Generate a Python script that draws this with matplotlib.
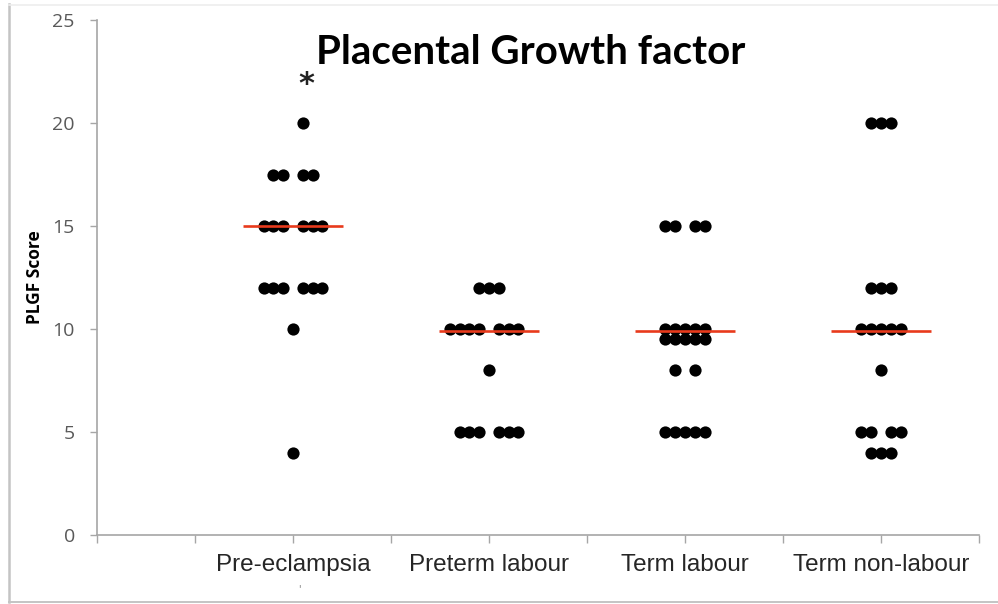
import matplotlib
matplotlib.use("Agg")
import matplotlib.pyplot as plt
from matplotlib.lines import Line2D

# Group labels and their positions on the category axis
groups = ["Pre-eclampsia", "Preterm labour", "Term labour", "Term non-labour"]
group_pos = [2, 4, 6, 8]

# Individual PLGF scores (x = jittered position, y = score)
pe_x = [2.1, 1.8, 1.9, 2.1, 2.2, 1.7, 1.8, 1.9, 2.1, 2.2, 2.3,
        1.7, 1.8, 1.9, 2.1, 2.2, 2.3, 2.0, 2.0]
pe_y = [20, 17.5, 17.5, 17.5, 17.5, 15, 15, 15, 15, 15, 15,
        12, 12, 12, 12, 12, 12, 10, 4]

ptl_x = [3.9, 4.0, 4.1, 3.6, 3.7, 3.8, 3.9, 4.1, 4.2, 4.3, 4.0,
         3.7, 3.8, 3.9, 4.1, 4.2, 4.3]
ptl_y = [12, 12, 12, 10, 10, 10, 10, 10, 10, 10, 8,
         5, 5, 5, 5, 5, 5]

tl_x = [5.8, 5.9, 6.1, 6.2, 5.8, 5.9, 6.0, 6.1, 6.2, 5.8, 5.9, 6.0, 6.1, 6.2,
        5.9, 6.1, 5.8, 5.9, 6.0, 6.1, 6.2]
tl_y = [15, 15, 15, 15, 10, 10, 10, 10, 10, 9.5, 9.5, 9.5, 9.5, 9.5,
        8, 8, 5, 5, 5, 5, 5]

tnl_x = [7.9, 8.0, 8.1, 7.9, 8.0, 8.1, 7.8, 7.9, 8.0, 8.1, 8.2, 8.0,
         7.8, 7.9, 8.1, 8.2, 7.9, 8.0, 8.1]
tnl_y = [20, 20, 20, 12, 12, 12, 10, 10, 10, 10, 10, 8,
         5, 5, 5, 5, 4, 4, 4]

# Median line for each group
medians = [15, 9.9, 9.9, 9.9]

y_ticks = [0, 5, 10, 15, 20, 25]

fig = plt.figure(figsize=(9.98, 6.04), dpi=100)
fig.patch.set_facecolor("white")

# Outer chart frame (left and bottom edges, faint top edge)
frame = "#c4c4c4"
fig.add_artist(Line2D([0.009, 0.009], [0.003, 0.993], transform=fig.transFigure,
                      color=frame, linewidth=1.8))
fig.add_artist(Line2D([0.009, 1.0], [0.004, 0.004], transform=fig.transFigure,
                      color=frame, linewidth=1.4))
fig.add_artist(Line2D([0.009, 1.0], [0.992, 0.992], transform=fig.transFigure,
                      color="#ededed", linewidth=1.2))

ax = fig.add_axes([97 / 998, 69 / 604, 882 / 998, 515 / 604])

for xs, ys in [(pe_x, pe_y), (ptl_x, ptl_y), (tl_x, tl_y), (tnl_x, tnl_y)]:
    ax.plot(xs, ys, "o", color="black", markersize=8.8, markeredgewidth=0, zorder=3)

for pos, med in zip(group_pos, medians):
    ax.plot([pos - 0.51, pos + 0.51], [med, med], color="#e83a1c", linewidth=1.9,
            solid_capstyle="butt", zorder=4)

ax.text(2.14, 21.85, "*", ha="center", va="center", fontsize=22, fontweight="bold",
        color="#222222", family="DejaVu Sans")

ax.set_xlim(0, 9)
ax.set_ylim(0, 25)

ax.set_yticks(y_ticks)
ax.set_yticklabels([str(t) for t in y_ticks], fontsize=14, color="#595959",
                   family="Open Sans")
ax.tick_params(axis="y", direction="out", length=5, width=1, color="#a6a6a6", pad=11)

ax.set_xticks(range(0, 10))
ax.set_xticklabels([])
ax.tick_params(axis="x", direction="out", length=6, width=1, color="#a6a6a6")
for pos, name in zip(group_pos, groups):
    ax.text(pos, -1.45, name, ha="center", va="center", fontsize=17.5,
            color="#262626", family="Liberation Sans")

# Small stray mark below the first category label
ax.text(2.07, -2.65, "'", ha="center", va="center", fontsize=7, color="#777777")

for side in ("top", "right"):
    ax.spines[side].set_visible(False)
for side in ("left", "bottom"):
    ax.spines[side].set_color("#a6a6a6")
    ax.spines[side].set_linewidth(1.2)

ax.set_ylabel("PLGF Score", fontsize=12.5, fontweight="bold", family="Open Sans",
              color="black", labelpad=6)

fig.text(531 / 998, 1 - 52 / 604, "Placental Growth factor", ha="center", va="center",
         fontsize=29, fontweight="bold", family="Lato", color="black")

fig.savefig("out.png", dpi=100, facecolor="white")
